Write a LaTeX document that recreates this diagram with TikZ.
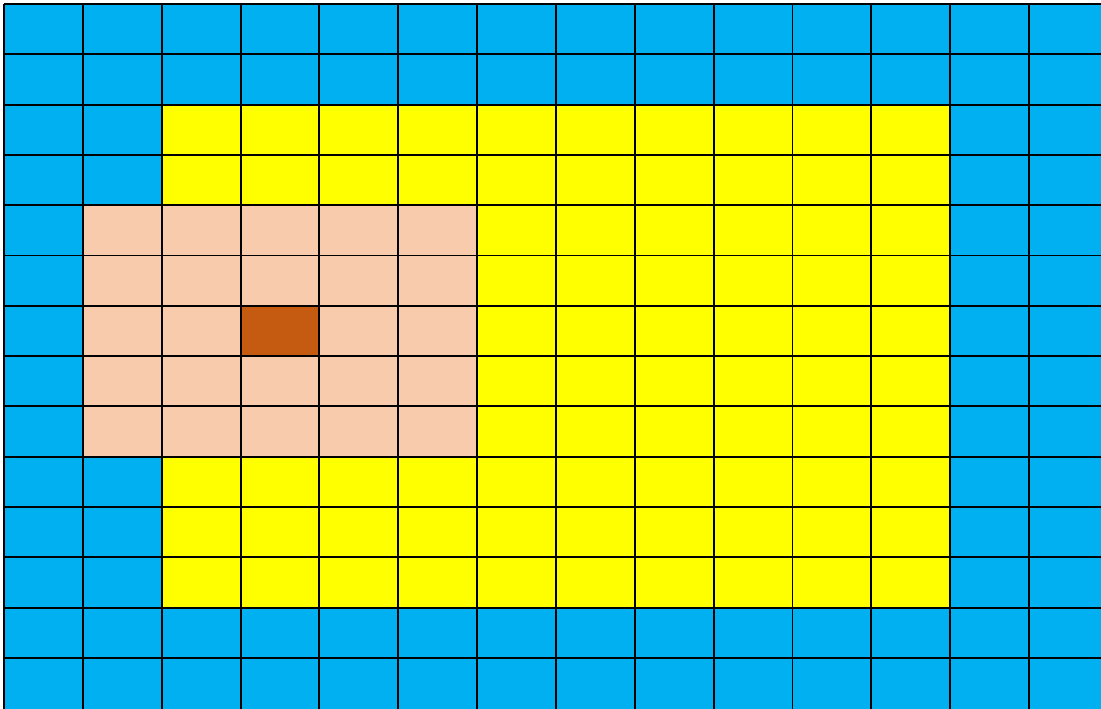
\documentclass[tikz,border=0pt]{standalone}
\definecolor{cblue}{HTML}{00B0F0}
\definecolor{cyellow}{HTML}{FFFF00}
\definecolor{cpeach}{HTML}{F8CBAD}
\definecolor{cbrown}{HTML}{C55A11}
\tikzset{gridline/.style={draw=black,line width=1.1pt}}
\begin{document}
\begin{tikzpicture}[x=0.02cm,y=-0.02cm]
\useasboundingbox (0,0) rectangle (1101,708);
\fill[white] (0,0) rectangle (1101,708);
\clip (0,0) rectangle (1101,708);
\def\cw{78.85}
\def\ch{50.3}
% blue background
\fill[cblue] (4,4) rectangle ({4+15*\cw},{4+15*\ch});
% yellow region cols 2..11, rows 2..11
\fill[cyellow] ({4+2*\cw},{4+2*\ch}) rectangle ({4+12*\cw},{4+12*\ch});
% peach region cols 1..5, rows 4..8
\fill[cpeach] ({4+1*\cw},{4+4*\ch}) rectangle ({4+6*\cw},{4+9*\ch});
% brown cell col 3 row 6
\fill[cbrown] ({4+3*\cw},{4+6*\ch}) rectangle ({4+4*\cw},{4+7*\ch});
% grid lines
\foreach \i in {0,...,13} {
  \draw[gridline] ({4+\i*\cw},4) -- ({4+\i*\cw},{4+15*\ch});
  \draw[gridline] (4,{4+\i*\ch}) -- ({4+15*\cw},{4+\i*\ch});
}
\end{tikzpicture}
\end{document}
